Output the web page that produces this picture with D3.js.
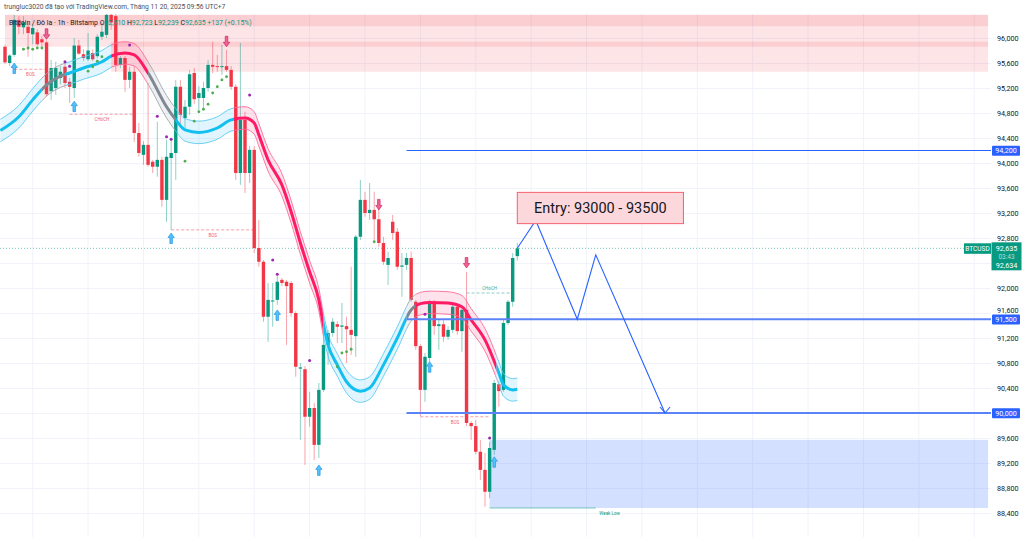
<!DOCTYPE html>
<html><head><meta charset="utf-8">
<script src="https://cdn.jsdelivr.net/npm/d3@7"></script>
<style>body{margin:0;background:#fff;} svg{display:block;font-family:Roboto,"Noto Sans",sans-serif;}</style>
</head><body><svg id="c" width="1028" height="537"></svg>
<script>
// ---------- DATA ----------
const opens=[95860,95600,95730,96290,96170,96180,96060,96090,95980,95930,95150,95200,95360,95540,95300,95200,95880,95740,95660,95760,95710,96020,96050,96370,96350,95570,95680,95330,95460,94480,94130,94290,94020,93940,94050,93410,94080,94160,95220,94720,94900,95440,95040,95040,95200,95570,95550,95540,95550,95490,95220,93840,94690,93840,94210,92640,92420,91540,91790,91810,92130,92100,92080,91600,90710,90700,89940,90080,89490,90370,91090,91280,91420,91380,91390,91330,91230,92820,93410,93200,93250,93100,92720,92370,93060,92900,92340,92370,92480,91780,91070,90370,90880,91780,91390,91420,91220,91330,91700,91310,91650,89840,89790,89380,89090,88740,89410,90460,90370,91440,91780,92510];
const highs=[95890,95740,96370,96350,96350,96250,96220,96140,96040,95960,95650,95620,95550,95620,95360,96000,95970,95820,96080,95820,96060,96250,96400,96400,96400,95710,95710,95540,95550,94640,94350,95280,94050,94660,94100,94370,94370,95330,95330,95010,95490,95520,95230,95300,95650,95940,95730,95890,95810,95550,95260,95920,94820,94270,94270,93090,92450,92080,92080,92190,92160,92130,92110,91630,90800,90750,90340,90160,90480,91300,91330,91520,91470,91760,91540,92340,92850,93730,93540,93680,93540,93330,92820,92580,93170,92960,92560,92560,92580,91810,91100,90960,91810,91810,91490,91490,91390,91730,91730,91710,92260,89870,89890,89570,89360,89540,90530,90510,91490,91810,92560,92723];
const lows=[95580,95550,95700,96060,96060,95700,95900,95870,95860,95060,95010,95090,95260,95200,94960,95040,95730,95630,95630,95630,95680,95970,96000,96130,95460,95520,95140,95200,94340,94100,93970,93940,93840,93780,93300,93060,92930,93730,94560,94560,94770,94940,94850,94880,95140,95440,95460,95410,95460,95170,93730,93650,93520,93680,92560,92340,91460,91140,91380,91730,92030,91090,91540,90580,89570,89170,89780,89250,89280,90340,90770,91220,91120,91120,90800,90930,90900,92770,93140,93090,92770,92660,92370,92050,92770,92290,91860,92290,91780,91010,89950,90180,90820,91250,91010,91140,91170,91280,91250,90980,89790,89570,89340,88930,88500,88640,89330,90100,90340,91410,91700,92439];
const closes=[95610,95720,96290,96180,96250,96080,96160,95900,95930,95100,95520,95520,95460,95280,95220,95880,95750,95680,95800,95660,96020,96100,96370,96250,95570,95680,95330,95460,94480,94160,94290,93970,93940,94050,93410,94100,94160,95220,94770,94900,95420,95020,95120,95200,95570,95540,95540,95550,95490,95220,93840,94690,93840,94210,92640,92420,91540,91810,91800,92100,92080,92030,91600,90740,90730,89940,90080,89490,90370,91090,91280,91460,91380,91400,91340,91250,92820,93410,93200,93250,93100,92720,92420,92480,92880,92340,92360,92480,91810,91070,90370,90900,91780,91390,91420,91220,91330,91700,91310,91650,89840,89790,89380,89090,88740,89440,90480,90350,91440,91780,92480,92635];

// kernel regression envelope (bar index, centre price)
const kernelIdx=[-1,3,6,9,12,14,17,21,23,26,28,31,35,37,39,42,46,49,52,54,55,57,60,62,64,66,68,69,70,72,74,77,79,82,85,88,90,92,96,99,101,104,107,108,110,111];
const kernelVal=[94520,94740,95010,95250,95390,95440,95520,95620,95710,95760,95730,95440,94900,94690,94530,94490,94560,94690,94720,94640,94450,94050,93650,93220,92720,92260,91810,91410,91090,90770,90500,90350,90400,90770,91200,91650,91750,91770,91760,91700,91490,91170,90640,90450,90370,90380];
const envelopeWidth=180;
const trendStart=[-2,8,13,23,31,37,49.5,69,87,89,106.5];
const trendEnd=[8,13,23,31,37,49.5,69,87,89,106.5,112];
const trendState=['up','flat','up','down','flat','up','down','up','flat','down','up'];

// signal markers
const purpleIdx=[13,14,27,33,35,36,53,58,59,66,91,105];
const purpleVal=[95620,95550,95890,94750,94420,94380,95090,92450,92220,90840,91580,89600];
const greenIdx=[4,5,6,7,8,18,19,20,21,39,41,42,43,44,45,46,47,48,72,73,74,75,80];
const greenVal=[95820,95840,95820,95840,95840,95470,95540,95630,95700,94030,94670,94820,94860,94940,95120,95220,95330,95380,90740,90960,90980,91020,92740];
const upArrowIdx=[2,15,36,59,68,92,106];
const upArrowVal=[95600,94990,92880,91650,89170,90820,89300];
const downArrowIdx=[9,48,81,100];
const downArrowVal=[95980,95860,93250,92320];

// structure labels
const structText=['BOS','CHoCH','BOS','BOS','CHoCH'];
const structFrom=[2,14,36,90,100];
const structTo=[9,28,54,105,110];
const structVal=[95500,94780,92930,89940,91920];
const structKind=['bear','bear','bear','bear','bull'];

// zones & levels
const supplyFrom=[0,0,23];      const supplyTo=[213,213,213];
const supplyTop=[96370,96370,95940]; const supplyBottom=[95860,96190,95460];
const demandFrom=105, demandTo=213, demandTop=89570, demandBottom=88480;
const weakLowTo=128, weakLowLabelAt=131;
const levelVals=[94200,91500,90000];
const levelLabels=['94,200','91,500','90,000'];
const levelFrom=87;
const pathIdx=[111,115,124,128,143];
const pathVal=[92635,93080,91500,92530,90000];
const entryText='Entry: 93000 - 93500';
const entryFrom=111, entryTo=147, entryTop=93530, entryBottom=93030;
const priceTicks=[88400,88800,89200,89600,90000,90400,90800,91200,91600,92000,92400,92800,93200,93600,94000,94400,94800,95200,95600,96000];
const labelTicks=[88400,88800,89200,89600,90000,90400,90800,91200,91600,92000,92800,93200,93600,94000,94400,94800,95200,95600,96000];
const lastPrice=92635, lastPriceLabel='92,635', countdown='03:43', bidLabel='92,634';
const headerLine='trungluc3020 đã tạo với TradingView.com, Tháng 11 20, 2025 09:56 UTC+7';
const symbolLine='Bitcoin / Đô la · 1h · Bitstamp';
const ohlcLabels=['O','H','L','C'];
const ohlcVals=['92,510','92,723','92,239','92,635'];
const changeText='+137 (+0.15%)';

// ---------- SCALES ----------
const W=1028,H=537,plotR=991,plotT=14;
const svg=d3.select('#c');
const x=d3.scaleLinear().domain([0,111]).range([5,517.3]);
const y=d3.scaleLinear().domain([88400,96000]).range([513,38]);
const UP='#089981',DN='#f23645';

const defs=svg.append('defs');
defs.append('clipPath').attr('id','plot').append('rect').attr('x',0).attr('y',plotT).attr('width',plotR).attr('height',H-plotT);
const root=svg.append('g').attr('clip-path','url(#plot)');

// grid
const gridIdx=d3.range(6,215,12);
root.append('g').selectAll('line').data(gridIdx).join('line')
  .attr('x1',d=>x(d)).attr('x2',d=>x(d)).attr('y1',plotT).attr('y2',H)
  .attr('stroke','#f0f3fa').attr('stroke-width',1);
root.append('g').selectAll('line').data(priceTicks).join('line')
  .attr('x1',0).attr('x2',plotR).attr('y1',d=>Math.round(y(d))+0.5).attr('y2',d=>Math.round(y(d))+0.5)
  .attr('stroke','#f0f3fa').attr('stroke-width',1);

// supply zones
supplyFrom.forEach((f,k)=>{
  root.append('rect').attr('x',x(f)).attr('width',x(supplyTo[k])-x(f))
   .attr('y',y(supplyTop[k])).attr('height',y(supplyBottom[k])-y(supplyTop[k]))
   .attr('fill','rgba(242,54,69,0.13)');
});
// demand zone
root.append('rect').attr('x',x(demandFrom)).attr('width',x(demandTo)-x(demandFrom))
  .attr('y',y(demandTop)).attr('height',y(demandBottom)-y(demandTop)).attr('fill','rgba(41,98,255,0.2)');
root.append('line').attr('x1',x(demandFrom)).attr('x2',x(weakLowTo)).attr('y1',y(demandBottom)).attr('y2',y(demandBottom))
  .attr('stroke','#089981').attr('stroke-width',1).attr('opacity',0.5);
root.append('text').attr('x',x(weakLowLabelAt)).attr('y',y(demandBottom)+7).attr('text-anchor','middle')
  .attr('font-size',4.5).attr('fill','#089981').text('Weak Low');

// last price dotted line
root.append('line').attr('x1',0).attr('x2',964).attr('y1',y(lastPrice)).attr('y2',y(lastPrice))
  .attr('stroke','#089981').attr('stroke-dasharray','1,2').attr('opacity',0.55);

// candles
const candles=d3.range(opens.length);
const cg=root.append('g');
cg.selectAll('line').data(candles).join('line')
  .attr('x1',i=>x(i)).attr('x2',i=>x(i)).attr('y1',i=>y(highs[i])).attr('y2',i=>y(lows[i]))
  .attr('stroke',i=>closes[i]>=opens[i]?UP:DN).attr('stroke-opacity',0.45).attr('stroke-width',1);
cg.selectAll('rect').data(candles).join('rect')
  .attr('x',i=>x(i)-1.7).attr('width',3.4)
  .attr('y',i=>y(Math.max(opens[i],closes[i])))
  .attr('height',i=>Math.max(1,Math.abs(y(opens[i])-y(closes[i]))))
  .attr('fill',i=>closes[i]>=opens[i]?UP:DN);

// envelope
const kpts=kernelIdx.map((k,j)=>({i:k,v:kernelVal[j]}));
const cols={up:{line:'#12c0f0',fill:'rgba(3,169,244,0.12)',edge:'#5ccbf5'},
            down:{line:'#ff1a66',fill:'rgba(255,26,102,0.12)',edge:'#ff6a98'},
            flat:{line:'#7f8893',fill:'rgba(120,128,140,0.12)',edge:'#a0a7b0'}};
const lineC=d3.line().x(d=>x(d.i)).y(d=>y(d.v)).curve(d3.curveMonotoneX);
const lineU=d3.line().x(d=>x(d.i)).y(d=>y(d.v+envelopeWidth)).curve(d3.curveMonotoneX);
const lineL=d3.line().x(d=>x(d.i)).y(d=>y(d.v-envelopeWidth)).curve(d3.curveMonotoneX);
const area=d3.area().x(d=>x(d.i)).y0(d=>y(d.v+envelopeWidth)).y1(d=>y(d.v-envelopeWidth)).curve(d3.curveMonotoneX);
trendStart.forEach((s,k)=>{
  const id='seg'+k;
  defs.append('clipPath').attr('id',id).append('rect').attr('x',x(s)).attr('y',0).attr('width',x(trendEnd[k])-x(s)).attr('height',H);
  const c=cols[trendState[k]];
  const g=root.append('g').attr('clip-path',`url(#${id})`);
  g.append('path').attr('d',area(kpts)).attr('fill',c.fill);
  g.append('path').attr('d',lineU(kpts)).attr('fill','none').attr('stroke',c.edge).attr('stroke-width',0.9);
  g.append('path').attr('d',lineL(kpts)).attr('fill','none').attr('stroke',c.edge).attr('stroke-width',0.9);
  g.append('path').attr('d',lineC(kpts)).attr('fill','none').attr('stroke',c.line).attr('stroke-width',3);
});

// dots
root.append('g').selectAll('circle').data(purpleIdx).join('circle')
  .attr('cx',(d)=>x(d)).attr('cy',(d,j)=>y(purpleVal[j])).attr('r',1.5).attr('fill','#9c27b0');
root.append('g').selectAll('circle').data(greenIdx).join('circle')
  .attr('cx',(d)=>x(d)).attr('cy',(d,j)=>y(greenVal[j])).attr('r',1.4).attr('fill','#4caf50');
// arrows
const upPath=(cx,t)=>`M${cx},${t}L${cx+3.2},${t+4.5}L${cx+1.3},${t+4.5}L${cx+1.3},${t+10.5}L${cx-1.3},${t+10.5}L${cx-1.3},${t+4.5}L${cx-3.2},${t+4.5}Z`;
const dnPath=(cx,b)=>`M${cx},${b}L${cx+3.2},${b-4.5}L${cx+1.3},${b-4.5}L${cx+1.3},${b-10.5}L${cx-1.3},${b-10.5}L${cx-1.3},${b-4.5}L${cx-3.2},${b-4.5}Z`;
root.append('g').selectAll('path').data(upArrowIdx).join('path')
  .attr('d',(d,j)=>upPath(x(d),y(upArrowVal[j]))).attr('fill','#4fc3f7').attr('stroke','#1e88e5').attr('stroke-width',0.6);
root.append('g').selectAll('path').data(downArrowIdx).join('path')
  .attr('d',(d,j)=>dnPath(x(d),y(downArrowVal[j]))).attr('fill','#f06292').attr('stroke','#c2185b').attr('stroke-width',0.6);

// structure
structText.forEach((t,k)=>{
  const col=structKind[k]==='bull'?'#089981':'#f23645';
  root.append('line').attr('x1',x(structFrom[k])).attr('x2',x(structTo[k])).attr('y1',y(structVal[k])).attr('y2',y(structVal[k]))
   .attr('stroke',col).attr('stroke-dasharray','3,2').attr('stroke-width',0.8).attr('opacity',0.6);
  root.append('text').attr('x',x((structFrom[k]+structTo[k])/2)).attr('y',y(structVal[k])+(structKind[k]==='bull'?-3:7))
   .attr('text-anchor','middle').attr('font-size',4.5).attr('fill',col).attr('opacity',0.8).text(t);
});

// levels
levelVals.forEach((v,k)=>{
  root.append('line').attr('x1',x(levelFrom)).attr('x2',plotR).attr('y1',y(v)).attr('y2',y(v))
   .attr('stroke',k===0?'#2962ff':'#5b82f7').attr('stroke-width',k===0?1.2:1.8);
});
// projection path
const pp=pathIdx.map((k,j)=>[x(k),y(pathVal[j])]);
root.append('path').attr('d',d3.line()(pp)).attr('fill','none').attr('stroke','#2962ff').attr('stroke-width',1.1);
const tip=pp[pp.length-1];
root.append('path').attr('d',`M${tip[0]-5},${tip[1]-6}L${tip[0]},${tip[1]}L${tip[0]+5},${tip[1]-6}`).attr('fill','none').attr('stroke','#2962ff').attr('stroke-width',1.1);
// entry box
root.append('rect').attr('x',x(entryFrom)).attr('width',x(entryTo)-x(entryFrom)).attr('y',y(entryTop)).attr('height',y(entryBottom)-y(entryTop))
  .attr('fill','#fcd8dc').attr('stroke','#f4616d').attr('stroke-width',1);
root.append('text').attr('x',(x(entryFrom)+x(entryTo))/2).attr('y',(y(entryTop)+y(entryBottom))/2+5.2)
  .attr('text-anchor','middle').attr('font-size',14.5).attr('fill','#131722').text(entryText);

// axis
const ax=svg.append('g').attr('transform',`translate(${plotR},0)`)
  .call(d3.axisRight(y).tickValues(labelTicks).tickFormat(d3.format(',')).tickSize(0).tickPadding(6));
ax.select('.domain').remove();
ax.selectAll('text').attr('font-size',7.2).attr('fill','#131722').attr('font-family','Roboto,sans-serif')
  .attr('dy',d=>d===91600?'-0.1em':'0.32em');

// axis badges
levelVals.forEach((v,k)=>{
  svg.append('rect').attr('x',992).attr('y',y(v)-4.8).attr('width',28).attr('height',10).attr('rx',1).attr('fill','#2962ff');
  svg.append('text').attr('x',1006).attr('y',y(v)+2.6).attr('text-anchor','middle').attr('font-size',7.2).attr('fill','#fff').text(levelLabels[k]);
});
svg.append('rect').attr('x',964).attr('y',y(lastPrice)-5).attr('width',27).attr('height',10.5).attr('fill','#089981');
svg.append('text').attr('x',977.5).attr('y',y(lastPrice)+2.5).attr('text-anchor','middle').attr('font-size',6.5).attr('fill','#fff').text('BTCUSD');
svg.append('rect').attr('x',991.5).attr('y',y(lastPrice)-6).attr('width',30).attr('height',28).attr('fill','#089981');
svg.append('text').attr('x',1006.5).attr('y',y(lastPrice)+2.6).attr('text-anchor','middle').attr('font-size',7.2).attr('fill','#fff').text(lastPriceLabel);
svg.append('text').attr('x',1006.5).attr('y',y(lastPrice)+11).attr('text-anchor','middle').attr('font-size',6.5).attr('fill','#b2dfdb').text(countdown);
svg.append('text').attr('x',1006.5).attr('y',y(lastPrice)+19.5).attr('text-anchor','middle').attr('font-size',7.2).attr('fill','#fff').text(bidLabel);

// header
svg.append('text').attr('x',4).attr('y',9).attr('font-size',6.7).attr('fill','#4a4f5c').text(headerLine);
const hl=svg.append('text').attr('x',9).attr('y',25).attr('font-size',6.9).attr('fill','#131722');
hl.append('tspan').text(symbolLine+'  ');
ohlcLabels.forEach((l,k)=>{ hl.append('tspan').text(l); hl.append('tspan').attr('fill',UP).text(ohlcVals[k]+'  '); });
hl.append('tspan').attr('fill',UP).text(changeText);
</script></body></html>
